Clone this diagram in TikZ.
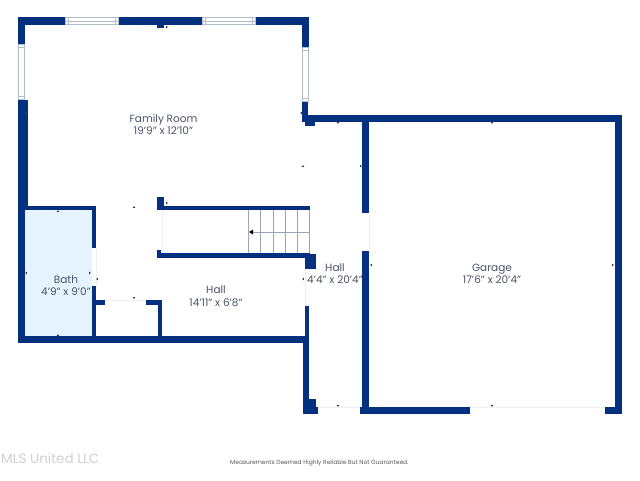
\documentclass[tikz,border=0pt]{standalone}
\usepackage{fontspec}
\setmainfont{Poppins}
\definecolor{wallc}{HTML}{03307F}
\definecolor{bathc}{HTML}{E4F3FD}
\definecolor{textc}{HTML}{4A5368}
\definecolor{winc}{HTML}{B4BEC8}
\definecolor{stairc}{HTML}{9AA7B8}
\definecolor{faintc}{HTML}{EDEFF2}
\tikzset{
  wall/.style={fill=wallc,draw=none},
  winline/.style={draw=winc,line width=0.7pt},
  stairline/.style={draw=stairc,line width=0.8pt},
  faint/.style={draw=faintc,line width=0.6pt},
  roomlabel/.style={font=\fontsize{10.5}{12.6}\selectfont,text=textc,align=center,inner sep=0pt},
}
\newcommand{\wl}[4]{\fill[wall] (#1,#2) rectangle (#3,#4);}
\newcommand{\hwin}[3]{% x0 x1 ytop: horizontal window
  \fill[white] (#1,#3) rectangle (#2,#3+8);
  \draw[winline] (#1,#3+.4) -- (#2,#3+.4) (#1,#3+4) -- (#2,#3+4) (#1,#3+7.6) -- (#2,#3+7.6)
    (#1+.4,#3) -- (#1+.4,#3+8) (#1+3.5,#3) -- (#1+3.5,#3+8) (#2-3.5,#3) -- (#2-3.5,#3+8) (#2-.4,#3) -- (#2-.4,#3+8);}
\newcommand{\vwin}[3]{% y0 y1 xleft: vertical window
  \fill[white] (#3,#1) rectangle (#3+7,#2);
  \draw[winline] (#3+.4,#1) -- (#3+.4,#2) (#3+6.6,#1) -- (#3+6.6,#2)
    (#3,#1+.4) -- (#3+7,#1+.4) (#3,#1+3.5) -- (#3+7,#1+3.5) (#3,#2-3.5) -- (#3+7,#2-3.5) (#3,#2-.4) -- (#3+7,#2-.4);}
\newcommand{\mku}[2]{\fill[black!75] (#1-1.3,#2+.9) -- (#1+1.3,#2+.9) -- (#1,#2-.9) -- cycle;}
\newcommand{\mkd}[2]{\fill[black!75] (#1-1.3,#2-.9) -- (#1+1.3,#2-.9) -- (#1,#2+.9) -- cycle;}
\newcommand{\mkl}[2]{\fill[black!75] (#1+.9,#2-1.3) -- (#1+.9,#2+1.3) -- (#1-.9,#2) -- cycle;}
\newcommand{\mkr}[2]{\fill[black!75] (#1-.9,#2-1.3) -- (#1-.9,#2+1.3) -- (#1+.9,#2) -- cycle;}
\begin{document}
\begin{tikzpicture}[x=1pt,y=-1pt]
\useasboundingbox (0,0) rectangle (640,480);
\fill[white] (0,0) rectangle (640,480);
% bath
\fill[bathc] (25,210) rectangle (92,336);
% family room shell
\wl{18}{17}{309}{25}
\wl{18}{17}{25}{44}
\wl{18}{100}{28}{207}
\wl{18}{207}{25}{343}
\wl{157}{25}{164}{28}
\wl{302}{17}{309}{47}
\wl{302}{102}{308}{122}
\wl{305}{115}{622}{122}
\wl{305}{122}{315}{126}
% windows
\hwin{65}{119}{17}
\hwin{202}{256}{17}
\vwin{44}{100}{18}
\vwin{47}{102}{302}
% bath walls
\wl{25}{206}{96}{210}
\wl{92}{206}{96}{248}
\wl{92}{286}{96}{337}
\wl{96}{300}{105}{305}
\wl{146}{300}{162}{305}
\wl{158}{300}{162}{337}
% bottom wall
\wl{18}{336}{305}{343}
% stairs walls
\wl{157}{206}{310}{210}
\wl{157}{197}{164}{210}
\wl{157}{253}{310}{258}
\wl{157}{250}{161}{258}
\wl{305}{254}{316}{269}
% hall right-hand side
\wl{305}{306}{309}{336}
\wl{303}{336}{309}{414}
\wl{303}{399}{316}{414}
\wl{303}{407}{318}{414}
% garage
\wl{362}{122}{369}{213}
\wl{362}{251}{369}{407}
\wl{360}{407}{470}{414}
\wl{615}{115}{622}{414}
\wl{605}{407}{622}{414}
% stairs
\foreach \sx in {248,260,273,285,297,309}{\draw[stairline] (\sx,210) -- (\sx,253);}
\draw[stairline] (250,232) -- (309,232);
\fill[black] (249,232) -- (253,229.5) -- (253,234.5) -- cycle;
% faint door thresholds
\draw[faint] (105,300) -- (146,300);
\draw[faint] (162,210) -- (162,253);
\draw[faint] (318,407) -- (360,407);
\draw[faint] (470,407) -- (605,407);
\draw[faint] (305,269) -- (305,306);
\draw[faint] (369,213) -- (369,251);
\draw[faint] (96,248) -- (96,286);
% dimension marks
\mkr{167}{27}\mkr{26}{113}\mkl{301}{113}\mku{303}{166}\mku{134}{207}\mkr{167}{203}
\mku{58}{211}\mku{58}{335}\mkl{26}{273}\mkr{90}{273}\mkl{97}{279}\mkd{134}{298}
\mkl{303}{279}\mkd{338}{123}\mkd{492}{123}\mkr{361}{166}\mkl{371}{265}\mkr{613}{265}
\mkd{338}{406}\mkd{492}{406}
% labels
\node[roomlabel] (family) at (163.5,124.5) {Family Room\\19'9" x 12'10"};
\node[roomlabel] (bath) at (66,285.5) {Bath\\4'9" x 9'0"};
\node[roomlabel] (hall1) at (216,296) {Hall\\14'11" x 6'8"};
\node[roomlabel] (hall2) at (335,273.5) {Hall\\4'4" x 20'4"};
\node[roomlabel] (garage) at (492,274) {Garage\\17'6" x 20'4"};
\node[anchor=west,inner sep=0pt,text=black!18,font=\fontsize{13.5}{14}\selectfont] (mls) at (1,458) {MLS United LLC};
\node[anchor=west,inner sep=0pt,text=black!65,font=\fontsize{5.95}{7}\selectfont] (note) at (230,463) {Measurements Deemed Highly Reliable But Not Guaranteed.};
\end{tikzpicture}
\end{document}
